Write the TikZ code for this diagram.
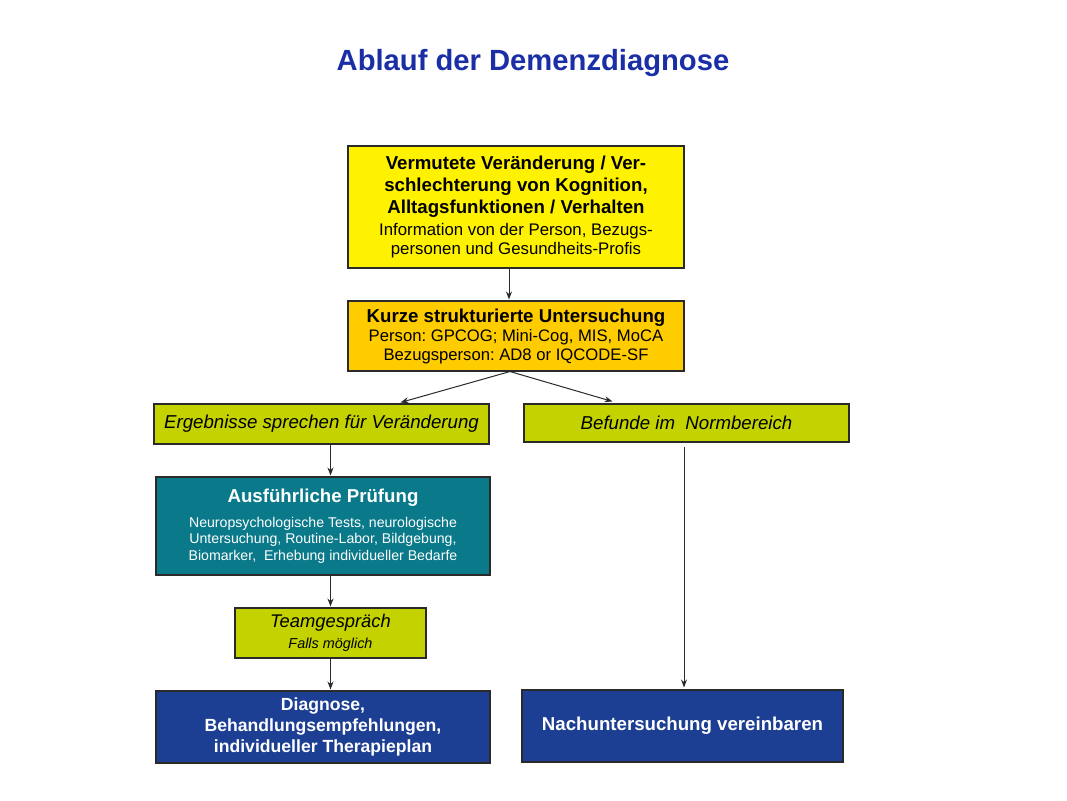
\documentclass[tikz,border=0pt]{standalone}
\usepackage{fontspec}
\setmainfont{Liberation Sans}
\usetikzlibrary{arrows.meta,calc}
\definecolor{cyel}{HTML}{FFF200}
\definecolor{corg}{HTML}{FFCC00}
\definecolor{clime}{HTML}{C4D300}
\definecolor{cteal}{HTML}{0A7A8A}
\definecolor{cblue}{HTML}{1C3F94}
\definecolor{ctitle}{HTML}{1A2EA6}
\definecolor{cline}{HTML}{2A2A2A}
\newcommand{\infofont}{\fontsize{12.6}{14.25}\selectfont}
\begin{document}
\frenchspacing
\begin{tikzpicture}[x=0.75pt,y=-0.75pt,
  box/.style={draw=cline, line width=0.8pt, align=center, inner sep=0pt},
  arr/.style={draw=cline, line width=0.75pt, -{Stealth[length=6pt,width=4.5pt]}}]
\useasboundingbox[fill=white] (0,0) rectangle (1067,800);

\node[text=ctitle, font=\fontsize{21.9}{26}\selectfont\bfseries] (title) at (533,63) {Ablauf der Demenzdiagnose};

\node[box, fill=cyel, minimum width=252pt, minimum height=91.5pt,
      font=\fontsize{14}{16.5}\selectfont] (b1) at (516,207)
  {\textbf{Vermutete Veränderung / Ver-}\\ \textbf{schlechterung von Kognition,}\\ \textbf{Alltagsfunktionen / Verhalten}\\
   {\infofont Information von der Person, Bezugs-}\\[-2.25pt] {\infofont personen und Gesundheits-Profis}};

\node[box, fill=corg, minimum width=252pt, minimum height=52.5pt,
      font=\fontsize{12.5}{14.25}\selectfont] (b2) at (516,336)
  {{\fontsize{14}{14.25}\selectfont\bfseries Kurze strukturierte Untersuchung}\\ Person: GPCOG; Mini-Cog, MIS, MoCA\\ Bezugsperson: AD8 or IQCODE-SF};

\node[box, fill=clime, minimum width=251.25pt, minimum height=30pt,
      font=\fontsize{14}{16}\selectfont\itshape] (b3) at (321.5,424)
  {Ergebnisse sprechen für Veränderung};

\node[box, fill=clime, minimum width=243.75pt, minimum height=28.5pt,
      font=\fontsize{14}{16}\selectfont\itshape] (b4) at (686.5,423)
  {Befunde im\ \ Normbereich};

\node[box, fill=cteal, text=white, minimum width=250.5pt, minimum height=73.5pt,
      font=\fontsize{10.6}{12.4}\selectfont] (b5) at (323,526)
  {{\fontsize{14}{12.4}\selectfont\bfseries Ausführliche Prüfung}\\[6pt]
   Neuropsychologische Tests, neurologische\\ Untersuchung, Routine-Labor, Bildgebung,\\ Biomarker,\ \ Erhebung individueller Bedarfe};

\node[box, fill=clime, minimum width=143.25pt, minimum height=37.5pt,
      font=\fontsize{10.8}{15.75}\selectfont\itshape] (b6) at (330.5,633)
  {{\fontsize{13.75}{15.75}\selectfont Teamgespräch}\\ Falls möglich};

\node[box, fill=cblue, text=white, minimum width=250.5pt, minimum height=54pt,
      font=\fontsize{13.2}{15.75}\selectfont\bfseries] (b7) at (323,727)
  {Diagnose,\\ Behandlungsempfehlungen,\\ individueller Therapieplan};

\node[box, fill=cblue, text=white, minimum width=240.75pt, minimum height=54pt,
      font=\fontsize{14}{16}\selectfont\bfseries] (b8) at (682.5,726)
  {Nachuntersuchung vereinbaren};

\draw[arr] ($(b1.south)+(-7,0)$) -- ($(b2.north)+(-7,-1)$);
\draw[arr] ($(b2.south)+(-6,0)$) -- ($(b3.north)+(79,-1)$);
\draw[arr] ($(b2.south)+(-6,0)$) -- ($(b4.north)+(-74,-2)$);
\draw[arr] (b3.south -| b6.north) -- ($(b5.north -| b6.north)+(0,-1)$);
\draw[arr] (b5.south -| b6.north) -- ($(b6.north)+(0,-1)$);
\draw[arr] (b6.south) -- ($(b7.north -| b6.south)+(0,-1)$);
\draw[arr] ($(b4.south)+(-2.5,4)$) -- ($(b8.north)+(1.5,-2)$);
\end{tikzpicture}
\end{document}
